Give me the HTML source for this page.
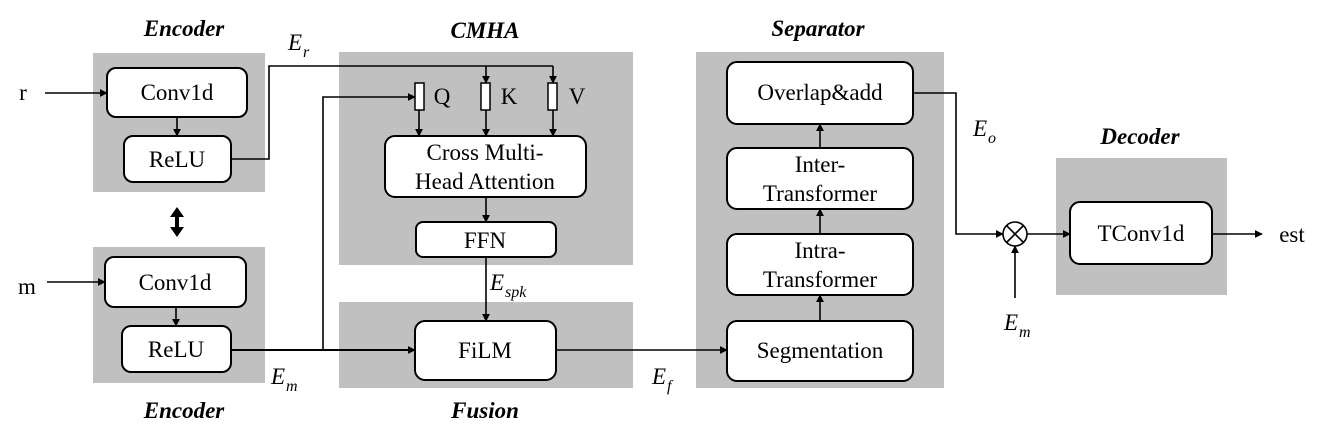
<!DOCTYPE html>
<html><head><meta charset="utf-8"><style>
html,body{margin:0;padding:0;background:#fff;}
svg{display:block;font-family:"Liberation Serif","Times New Roman",Times,serif;}
svg text{font-family:"Liberation Serif","Times New Roman",Times,serif;fill:#000;}
.t{font-size:23px;text-anchor:middle;}
.h{font-size:23px;font-weight:bold;font-style:italic;text-anchor:middle;}
.m{font-size:23px;font-style:italic;}
.s{font-size:16px;font-style:italic;}
.g{fill:#c0c0c0;}
.b{fill:#fff;stroke:#000;stroke-width:2;}
.l{fill:none;stroke:#000;stroke-width:1.6;}
</style></head><body>
<svg width="1329" height="442" viewBox="0 0 1329 442" font-family="Liberation Serif, serif">
<defs><marker id="a" viewBox="0 0 10 10" refX="9" refY="5" markerWidth="8" markerHeight="8" orient="auto" markerUnits="userSpaceOnUse"><path d="M0,0L10,5L0,10z"/></marker></defs>
<rect class="g" x="93" y="53" width="172" height="139"/>
<rect class="g" x="93" y="247" width="172" height="136"/>
<rect class="g" x="339" y="52" width="294" height="213"/>
<rect class="g" x="339" y="302" width="294" height="86"/>
<rect class="g" x="696" y="52" width="248" height="336"/>
<rect class="g" x="1056" y="158" width="171" height="137"/>
<text class="h" x="184" y="36">Encoder</text>
<text class="h" x="485" y="38">CMHA</text>
<text class="h" x="818" y="36">Separator</text>
<text class="h" x="1140" y="144">Decoder</text>
<text class="h" x="184" y="418">Encoder</text>
<text class="h" x="485" y="418">Fusion</text>
<rect class="b" x="107" y="68" width="140" height="49" rx="9"/><text class="t" x="177" y="100">Conv1d</text>
<rect class="b" x="124" y="136" width="107" height="46" rx="9"/><text class="t" x="177" y="167">ReLU</text>
<rect class="b" x="105" y="257" width="141" height="50" rx="9"/><text class="t" x="175" y="290">Conv1d</text>
<rect class="b" x="122" y="326" width="109" height="46" rx="9"/><text class="t" x="176" y="357">ReLU</text>
<rect class="b" x="385" y="136" width="201" height="61" rx="10"/><text class="t" x="485" y="160">Cross Multi-</text><text class="t" x="485" y="189">Head Attention</text>
<rect class="b" x="416" y="222" width="140" height="35" rx="7"/><text class="t" x="485" y="248">FFN</text>
<rect class="b" x="415" y="321" width="141" height="59" rx="10"/><text class="t" x="485" y="358">FiLM</text>
<rect class="b" x="727" y="62" width="186" height="62" rx="10"/><text class="t" x="820" y="100">Overlap&amp;add</text>
<rect class="b" x="727" y="148" width="186" height="61" rx="10"/><text class="t" x="820" y="172">Inter-</text><text class="t" x="820" y="201">Transformer</text>
<rect class="b" x="727" y="234" width="186" height="61" rx="10"/><text class="t" x="820" y="258">Intra-</text><text class="t" x="820" y="287">Transformer</text>
<rect class="b" x="727" y="321" width="186" height="60" rx="10"/><text class="t" x="820" y="358">Segmentation</text>
<rect class="b" x="1070" y="202" width="142" height="62" rx="10"/><text class="t" x="1141" y="241">TConv1d</text>
<rect x="415" y="83" width="9" height="27" fill="#fff" stroke="#000" stroke-width="1.5"/>
<rect x="481" y="83" width="9" height="27" fill="#fff" stroke="#000" stroke-width="1.5"/>
<rect x="548" y="83" width="9" height="27" fill="#fff" stroke="#000" stroke-width="1.5"/>
<text class="t" x="442" y="104">Q</text><text class="t" x="509" y="104">K</text><text class="t" x="577" y="104">V</text>
<text class="t" x="23" y="100">r</text>
<text class="t" x="27" y="294">m</text>
<line class="l" x1="45" y1="93" x2="107" y2="93" marker-end="url(#a)"/>
<line class="l" x1="47" y1="282" x2="105" y2="282" marker-end="url(#a)"/>
<line class="l" x1="177" y1="117" x2="177" y2="136" marker-end="url(#a)"/>
<line class="l" x1="176" y1="307" x2="176" y2="326" marker-end="url(#a)"/>
<path d="M177,207 L170,217 L175,217 L175,227 L170,227 L177,237 L184,227 L179,227 L179,217 L184,217 Z"/>
<polyline class="l" points="231,159 269,159 269,66 553,66"/>
<line class="l" x1="486" y1="66" x2="486" y2="83" marker-end="url(#a)"/>
<line class="l" x1="553" y1="66" x2="553" y2="83" marker-end="url(#a)"/>
<line class="l" x1="419" y1="110" x2="419" y2="136" marker-end="url(#a)"/>
<line class="l" x1="486" y1="110" x2="486" y2="136" marker-end="url(#a)"/>
<line class="l" x1="553" y1="110" x2="553" y2="136" marker-end="url(#a)"/>
<line class="l" x1="486" y1="197" x2="486" y2="222" marker-end="url(#a)"/>
<line class="l" x1="486" y1="257" x2="486" y2="321" marker-end="url(#a)"/>
<line class="l" x1="231" y1="350" x2="415" y2="350" marker-end="url(#a)" style="stroke-width:2"/>
<polyline class="l" points="323,350 323,97 415,97" marker-end="url(#a)"/>
<line class="l" x1="556" y1="350" x2="727" y2="350" marker-end="url(#a)"/>
<line class="l" x1="820" y1="321" x2="820" y2="295" marker-end="url(#a)"/>
<line class="l" x1="820" y1="234" x2="820" y2="209" marker-end="url(#a)"/>
<line class="l" x1="820" y1="148" x2="820" y2="124" marker-end="url(#a)"/>
<polyline class="l" points="913,93 956,93 956,234 1003,234" marker-end="url(#a)"/>
<circle cx="1015" cy="234" r="12" fill="#fff" stroke="#000" stroke-width="1.6"/>
<line class="l" x1="1007" y1="226" x2="1023" y2="242"/><line class="l" x1="1023" y1="226" x2="1007" y2="242"/>
<line class="l" x1="1015" y1="298" x2="1015" y2="246" marker-end="url(#a)"/>
<line class="l" x1="1027" y1="234" x2="1070" y2="234" marker-end="url(#a)"/>
<line class="l" x1="1212" y1="234" x2="1262" y2="234" marker-end="url(#a)"/>
<text class="t" x="1292" y="242">est</text>
<text class="m" x="288" y="50">E</text><text class="s" x="303" y="57">r</text>
<text class="m" x="490" y="290">E</text><text class="s" x="505" y="297">spk</text>
<text class="m" x="271" y="384">E</text><text class="s" x="286" y="391">m</text>
<text class="m" x="652" y="384">E</text><text class="s" x="667" y="391">f</text>
<text class="m" x="973" y="136">E</text><text class="s" x="988" y="143">o</text>
<text class="m" x="1004" y="330">E</text><text class="s" x="1019" y="337">m</text>
</svg>
</body></html>
